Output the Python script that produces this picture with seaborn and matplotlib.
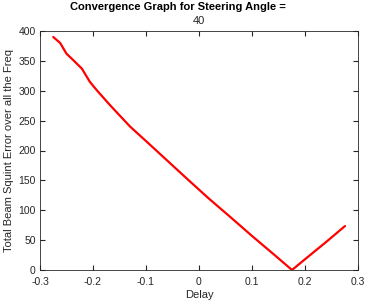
import matplotlib
matplotlib.use("Agg")
import matplotlib.pyplot as plt
import seaborn as sns
import pandas as pd

delay = [-0.275, -0.262, -0.250, -0.237, -0.221, -0.206, -0.193, -0.168, -0.130,
         -0.099, -0.061, -0.023, 0.018, 0.060, 0.100, 0.140, 0.1755, 0.200, 0.240, 0.2755]
error = [390, 380, 362, 351, 337, 315, 301, 276, 240,
         215, 184, 153, 120, 88, 57, 27, 0, 18, 47, 73.6]

xticks = [-0.3, -0.2, -0.1, 0, 0.1, 0.2, 0.3]
xticklabels = ["-0.3", "-0.2", "-0.1", "0", "0.1", "0.2", "0.3"]
yticks = [0, 50, 100, 150, 200, 250, 300, 350, 400]

sns.set_theme(style="ticks")
plt.rcParams['font.family'] = ['Liberation Sans', 'DejaVu Sans']
plt.rcParams.update({
    "xtick.direction": "in", "ytick.direction": "in",
    "xtick.top": True, "ytick.right": True,
    "xtick.bottom": True, "ytick.left": True,
})

df = pd.DataFrame({"Delay": delay, "Error": error})

fig = plt.figure(figsize=(3.66, 3.03), dpi=100)
ax = fig.add_axes([40/366, 1-270/303, 318/366, 239/303])
sns.lineplot(data=df, x="Delay", y="Error", color="#ff0000", linewidth=1.6, ax=ax)

ax.set_xlim(-0.3, 0.3)
ax.set_ylim(0, 400)
ax.set_xticks(xticks)
ax.set_xticklabels(xticklabels)
ax.set_yticks(yticks)
ax.tick_params(which="major", direction="in", length=3.5, width=0.8, color="#262626",
               labelcolor="#262626", labelsize=7.5,
               top=True, right=True, bottom=True, left=True)
ax.tick_params(axis="x", pad=5)
ax.tick_params(axis="y", pad=3)
for s in ax.spines.values():
    s.set_visible(True)
    s.set_color("#262626")
    s.set_linewidth(0.6)
ax.set_xlabel("Delay", fontsize=8, color="#262626", labelpad=2)
ax.set_ylabel("Total Beam Squint Error over all the Freq", fontsize=8, color="#262626", labelpad=3)
fig.text(178/366, 1-7/303, "Convergence Graph for Steering Angle =", ha="center", va="center",
         fontsize=8, fontweight="bold", color="black")
fig.text(199/366, 1-21/303, "40", ha="center", va="center", fontsize=8, color="#262626")

fig.savefig("out.png", dpi=100)
